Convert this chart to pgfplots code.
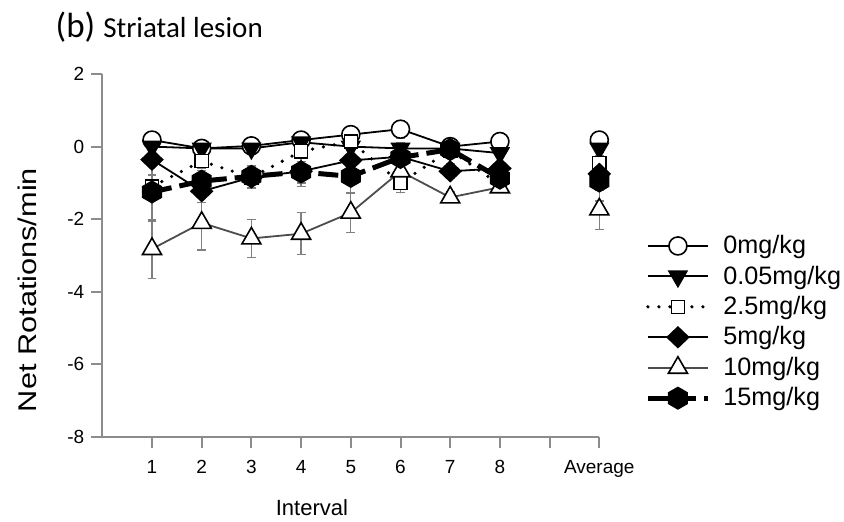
\documentclass[border=0pt]{standalone}
\usepackage{fontspec}
\setmainfont{Liberation Sans}
\newfontfamily\titlefont{Carlito}
\usepackage{graphicx}
\usepackage{pgfplots}
\usepackage{pgfplotstable}
\pgfplotsset{compat=1.18}

% filled hexagon, vertex on top
\pgfdeclareplotmark{hexagon*}{%
  \pgfpathmoveto{\pgfpointpolar{90}{\pgfplotmarksize}}%
  \pgfpathlineto{\pgfpointpolar{150}{\pgfplotmarksize}}%
  \pgfpathlineto{\pgfpointpolar{210}{\pgfplotmarksize}}%
  \pgfpathlineto{\pgfpointpolar{270}{\pgfplotmarksize}}%
  \pgfpathlineto{\pgfpointpolar{330}{\pgfplotmarksize}}%
  \pgfpathlineto{\pgfpointpolar{30}{\pgfplotmarksize}}%
  \pgfpathclose
  \pgfusepathqfillstroke}

% x = interval (10 = average), y = net rotations/min, e = error
\pgfplotstableread{
x y e
1 0.18 0.12
2 -0.05 0.10
3 0.02 0.10
4 0.18 0.10
5 0.33 0.15
6 0.48 0.25
7 0.00 0.10
8 0.14 0.10
9 nan nan
10 0.18 0.10
}\dzero
\pgfplotstableread{
x y e
1 0.00 0.10
2 -0.05 0.10
3 -0.05 0.10
4 0.12 0.10
5 0.00 0.10
6 -0.05 0.15
7 -0.05 0.10
8 -0.18 0.10
9 nan nan
10 -0.05 0.10
}\dpfive
\pgfplotstableread{
x y e
1 -1.10 0.30
2 -0.40 0.20
3 -0.85 0.20
4 -0.13 0.20
5 0.14 0.20
6 -1.00 0.27
7 -0.10 0.20
8 -1.05 0.15
9 nan nan
10 -0.45 0.20
}\dtwofive
\pgfplotstableread{
x y e
1 -0.36 0.40
2 -1.23 0.30
3 -0.85 0.30
4 -0.68 0.42
5 -0.38 0.30
6 -0.28 0.20
7 -0.68 0.20
8 -0.60 0.20
9 nan nan
10 -0.75 0.45
}\dfive
\pgfplotstableread{
x y e
1 -2.82 0.82
2 -2.10 0.75
3 -2.53 0.52
4 -2.40 0.58
5 -1.82 0.55
6 -0.68 0.20
7 -1.40 0.15
8 -1.12 0.15
9 nan nan
10 -1.73 0.55
}\dten
\pgfplotstableread{
x y e
1 -1.25 0.80
2 -0.95 0.30
3 -0.82 0.30
4 -0.70 0.30
5 -0.82 0.48
6 -0.30 0.30
7 -0.08 0.20
8 -0.87 0.20
9 nan nan
10 -0.95 0.55
}\dfifteen

\pgfplotsset{
  eb/.style={error bars/.cd, y dir=both, y explicit,
    error bar style={gray, line width=0.6bp, solid},
    error mark options={gray, rotate=90, mark size=2.2bp, line width=0.6bp, solid}},
}

\begin{document}
\begin{tikzpicture}
\path[use as bounding box] (-51.15bp,-42.5bp) rectangle (370.85bp,218.5bp);
\begin{axis}[
  scale only axis, width=248.5bp, height=181.5bp,
  xmin=0, xmax=10, ymin=-8, ymax=2,
  axis x line*=bottom, axis y line*=left,
  axis line style={gray!90, line width=1bp, -},
  xtick={1,...,10}, xticklabels={1,2,3,4,5,6,7,8,,Average},
  ytick={-8,-6,...,2},
  tick align=outside, major tick length=5.5bp,
  tick style={gray!90, line width=1bp},
  ticklabel style={font=\fontsize{9.5bp}{11bp}\selectfont},
  xticklabel style={yshift=-2.5bp},
  /pgf/number format/assume math mode=true,
  unbounded coords=jump,
  clip=false,
  legend cell align=left,
  legend style={draw=none, fill=none, at={(1.092,0.565)}, anchor=north west,
    inner sep=0pt, row sep=1.6bp,
    font=\fontsize{12.6bp}{15bp}\selectfont,
    nodes={inner sep=1.5bp},
    /tikz/every even column/.append style={column sep=0pt},
    /tikz/every odd column/.append style={column sep=5bp}},
  legend image code/.code={%
    \draw[mark repeat=2,mark phase=2,#1] plot coordinates {(0bp,0bp) (15bp,0bp) (30bp,0bp)};},
]
\addplot[black, line width=0.9bp, mark=*, mark size=4.5bp,
  mark options={solid, fill=white, line width=0.8bp}, eb]
  table[x=x, y=y, y error=e] {\dzero};
\addlegendentry{0mg/kg}
\addplot[black, line width=0.9bp, mark=triangle*, mark size=5bp,
  mark options={solid, rotate=180, fill=black}, eb]
  table[x=x, y=y, y error=e] {\dpfive};
\addlegendentry{0.05mg/kg}
\addplot[black, line width=1.8bp, line cap=round, dash pattern=on 0bp off 5.5bp,
  mark=square*, mark size=3.3bp,
  mark options={solid, fill=white, line width=0.7bp}, eb]
  table[x=x, y=y, y error=e] {\dtwofive};
\addlegendentry{2.5mg/kg}
\addplot[black, line width=0.9bp, mark=diamond*, mark size=5bp,
  mark options={solid, xscale=1.4}, eb]
  table[x=x, y=y, y error=e] {\dfive};
\addlegendentry{5mg/kg}
\addplot[black!70, line width=0.9bp, mark=triangle*, mark size=5.5bp,
  mark options={solid, fill=white, draw=black, line width=0.8bp}, eb]
  table[x=x, y=y, y error=e] {\dten};
\addlegendentry{10mg/kg}
\addplot[black, line width=2.5bp, dash pattern=on 10bp off 4bp,
  mark=hexagon*, mark size=5.5bp,
  mark options={solid, line width=0.5bp}, eb]
  table[x=x, y=y, y error=e] {\dfifteen};
\addlegendentry{15mg/kg}
\end{axis}
\node[anchor=base west, inner sep=0pt] at (-23.5bp,199.5bp)
  {\titlefont\fontsize{17.5bp}{19bp}\selectfont (b)\hspace{4bp}\fontsize{14.5bp}{16bp}\selectfont Striatal lesion};
\node[rotate=90, inner sep=0pt] at (-37.7bp,73.5bp)
  {\fontsize{12.8bp}{14bp}\selectfont\scalebox{1.2}[1]{Net Rotations/min}};
\node[anchor=base, inner sep=0pt] at (104.8bp,-39bp)
  {\fontsize{11bp}{13bp}\selectfont Interval};
\end{tikzpicture}
\end{document}
